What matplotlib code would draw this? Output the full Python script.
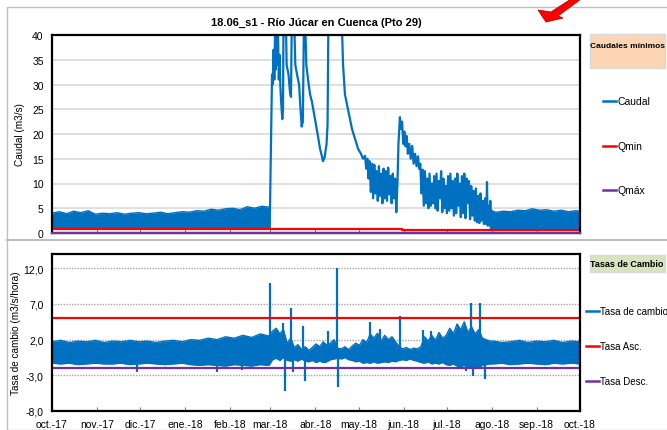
import numpy as np
import matplotlib
matplotlib.use('Agg')
import matplotlib.pyplot as plt
import matplotlib.dates as mdates
from matplotlib.lines import Line2D
from matplotlib.patches import Rectangle, Polygon

plt.rcParams['font.family'] = ['Liberation Sans', 'DejaVu Sans']

# start of the series
start = mdates.date2num(np.datetime64('2017-10-01'))

# Caudal (m3/s), days since 2017-10-01
# low-flow band Oct-Feb (lower / upper edge)
band1_days = [0, 5, 10, 15, 20, 25, 30, 35, 40, 45, 50, 55, 60, 65, 70, 75, 80, 85, 90, 95, 100,
              105, 110, 115, 120, 125, 130, 135, 140, 145, 150.5]
band1_lo = [1.0, 0.9, 1.0, 1.0, 0.9, 1.0, 1.0, 0.9, 1.0, 1.0, 0.9, 1.0, 1.0, 0.9, 1.0, 1.0, 0.9, 1.0, 1.0, 0.9, 1.0,
            1.0, 0.9, 1.0, 1.0, 0.9, 1.0, 1.0, 0.9, 1.0, 1.0]
band1_hi = [4.0, 4.3, 3.9, 4.4, 4.1, 4.5, 3.8, 4.0, 3.9, 4.1, 3.8, 4.0, 4.1, 3.9, 4.0, 4.2, 3.9, 4.1, 4.3, 4.2, 4.5,
            4.4, 4.8, 4.6, 4.9, 5.0, 4.7, 5.3, 5.0, 5.4, 5.2]

# flood period Mar-Jul (single trace)
flood_days = [150.5, 152.1, 152.6, 153.1, 153.7, 154.2, 154.7, 155.2, 155.7, 156.2, 156.8, 157.3, 157.8, 158.5,
              159.2, 159.7, 160.0, 161.8, 162.2, 163.5, 164.5, 165.2, 165.7, 167.6, 168.2, 169.4, 170.8, 171.8,
              172.6, 173.4, 174.1, 175.2, 175.8, 177.0, 178.4, 179.7, 181.8, 183.9, 185.3, 186.6, 187.3, 188.4,
              189.8, 190.5, 191.0, 200.5, 201.2, 202.5, 204.6, 206.0, 207.4, 209.5, 211.6, 213.6, 215.0,
              216.4, 217.2, 218.0, 218.8, 219.6, 220.4, 221.2, 222.0, 222.8, 223.6, 224.4, 225.2, 226.0, 226.8,
              227.6, 228.4, 229.2, 230.0, 230.8, 231.6, 232.4, 233.2, 234.0, 234.8, 235.6, 236.4, 237.2, 238.0,
              238.8, 239.5, 240.5, 241.3, 242.0, 242.8, 243.6, 244.4, 245.2, 246.0, 247.0, 248.0, 249.0, 250.0,
              251.0, 252.0, 253.0, 253.8, 254.6, 255.4, 256.2, 257.0, 257.8, 258.6, 259.4, 260.2, 261.0, 261.8,
              262.6, 263.4, 264.2, 265.0, 265.8, 266.6, 267.4, 268.2, 269.0, 269.8, 270.6, 271.4, 272.2, 273.0,
              273.8, 274.6, 275.4, 276.2, 277.0, 277.8, 278.6, 279.4, 280.2, 281.0, 281.8, 282.6, 283.4, 284.2,
              285.0, 285.8, 286.6, 287.4, 288.2, 289.0, 289.8, 290.6, 291.4, 292.2, 293.0, 293.8, 294.6, 295.4,
              296.2, 297.0, 297.8, 298.6, 299.4, 300.2, 300.7, 301.2, 301.8, 302.4, 303.0, 303.5, 304.0, 304.5]
flood_vals = [1.0, 32, 30, 37, 31, 41, 33, 41, 34, 41, 31, 36, 30, 26,
              23, 25, 41, 41, 34, 32, 28.5, 27.5, 41, 41, 34, 32, 30, 25,
              21.5, 22.5, 41, 41, 34, 31, 28, 26.5, 23, 19.5, 17, 15.5, 14.5, 15.2,
              18, 22, 41, 41, 34, 28, 25, 23, 21, 19, 17, 16, 15,
              15.6, 13.0, 15.0, 11.0, 14.5, 8.3, 14.0, 7.0, 13.8, 8.0, 12.5, 6.5, 13.5, 7.5,
              12.0, 6.0, 13.0, 7.0, 12.5, 6.5, 13.2, 7.8, 11.5, 6.0, 12.0, 7.0, 11.0, 4.2,
              10.0, 18.0, 23.4, 21.0, 22.5, 18.0, 20.5, 17.5, 19.6, 16.0, 18.0, 15.0, 17.6, 14.0,
              16.0, 13.5, 15.5, 13.0, 14.0, 8.0, 12.8, 5.5, 12.5, 6.0, 11.0, 5.0, 12.0, 5.5,
              10.0, 6.0, 11.5, 5.0, 12.0, 4.5, 10.5, 7.0, 12.5, 4.2, 11.0, 5.0, 9.5, 4.0,
              11.5, 4.5, 12.0, 5.0, 10.5, 3.5, 11.0, 4.0, 12.0, 5.5, 10.0, 3.2, 11.5, 4.0,
              12.0, 3.0, 11.0, 6.0, 10.5, 2.8, 9.5, 3.5, 8.5, 2.5, 9.0, 2.2, 7.5, 2.0,
              8.0, 2.5, 6.5, 1.8, 7.0, 1.8, 10.3, 1.5, 5.5, 1.5, 6.5, 1.2, 4.5, 1.0]

# low-flow band Aug-Sep
band2_days = [303, 307, 312, 317, 322, 327, 332, 337, 342, 347, 352, 357, 362, 365]
band2_lo = [1.0, 0.8, 0.9, 0.8, 0.9, 0.8, 0.8, 0.9, 0.8, 0.9, 0.8, 0.8, 0.9, 0.9]
band2_hi = [4.5, 4.2, 4.4, 4.3, 4.6, 4.5, 4.9, 4.6, 4.7, 4.4, 4.6, 4.3, 4.5, 4.4]

# Qmin / Qmax thresholds
qmin_days = [0, 241.7, 241.7, 365]
qmin_vals = [0.85, 0.85, 0.6, 0.6]
qmax_days = [0, 365]
qmax_vals = [0, 0]

# Tasa de cambio (m3/s/hora): band edges
tasa_days = [0, 6, 12, 18, 24, 30, 36, 42, 48, 54, 60, 66, 72, 78, 84, 90, 96, 102, 108, 114, 120, 126, 132, 138, 144, 150,
             152.5, 155, 157.5, 160, 162.5, 165, 167.5, 170, 172.5, 175, 177.5, 180, 182.5, 185, 187.5, 190, 192.5, 195,
             197.5, 200, 202.5, 205, 207.5, 210, 212.5, 215, 217.5, 220, 222.5, 225, 227.5, 230, 232.5, 235, 237.5,
             240, 242.5, 245, 247.5, 250, 252.5, 255, 257.5, 260, 262.5, 265, 267.5, 270, 272.5, 275, 277.5, 280,
             282.5, 285, 287.5, 290, 292.5, 295, 297.5, 300, 302.5,
             305, 311, 317, 323, 329, 335, 341, 347, 353, 359, 365]
tasa_hi = [1.7, 1.9, 1.6, 1.8, 1.7, 1.9, 1.6, 1.8, 1.7, 1.9, 1.7, 1.8, 1.6, 1.8, 1.9, 1.7, 2.0, 1.9, 2.2, 2.0, 2.4,
           2.2, 2.6, 2.3, 2.8, 2.5,
           3.2, 3.6, 2.8, 3.4, 1.5, 2.2, 0.9, 1.3, 0.6, 1.0, 0.5, 0.9, 1.4, 1.0, 1.7, 1.2, 1.5, 2.0, 0.8, 0.7, 1.0,
           0.6, 1.1, 1.5, 1.2, 2.0, 1.6, 2.8, 2.2, 2.9, 1.8, 2.6, 2.0, 2.4, 1.7, 1.0, 0.7, 0.9, 0.6, 0.8, 0.7, 1.0,
           2.4, 1.8, 2.6, 1.9, 3.0, 2.2, 2.6, 3.6, 2.8, 4.2, 3.4, 4.5, 3.0, 3.8, 2.8, 3.4, 2.2, 2.0, 1.8,
           1.8, 1.6, 1.7, 1.9, 1.6, 1.8, 1.7, 1.9, 1.6, 1.8, 1.7]
tasa_lo = [-1.3, -1.4, -1.3, -1.5, -1.4, -1.3, -1.4, -1.4, -1.3, -1.5, -1.4, -1.3, -1.4, -1.5, -1.4, -1.3, -1.5,
           -1.6, -1.5, -1.6, -1.7, -1.5, -1.6, -1.7, -1.5, -1.6,
           -0.8, -0.6, -0.9, -0.5, -0.9, -1.0, -0.8, -1.0, -0.7, -1.0, -1.1, -0.9, -1.2, -1.0, -1.2, -1.1, -0.8,
           -0.7, -0.6, -0.7, -0.5, -0.8, -0.9, -1.1, -1.0, -1.3, -1.2, -1.3, -1.1, -1.3, -1.2, -1.1, -1.2, -1.0,
           -1.1, -0.9, -0.8, -0.9, -0.7, -0.9, -1.0, -1.2, -1.3, -1.1, -1.4, -1.3, -1.4, -1.2, -1.5, -1.6, -1.4,
           -1.7, -1.8, -1.6, -1.9, -1.8, -1.7, -1.9, -1.6, -1.5, -1.4,
           -1.4, -1.3, -1.5, -1.4, -1.3, -1.4, -1.5, -1.3, -1.4, -1.3, -1.4]

# isolated spikes of the rate of change
spike_days = [58.5, 113.9, 131.1, 150.7, 159.9, 161.1, 165.0, 166.4, 173.7, 174.9, 191.0, 196.8, 197.9,
              219.8, 226.7, 240.8, 256.5, 262.2, 286.4, 289.8, 290.7, 295.9, 299.3]
spike_vals = [-2.6, -2.5, -2.3, 10.0, 4.3, -5.2, 6.4, -2.6, 3.9, -3.8, 3.2, 12.1, -4.7,
              4.5, 3.5, 5.3, 3.3, 3.2, -2.4, 7.1, -3.1, 7.1, -3.5]

tasa_asc = 5.0
tasa_desc = -2.0

months = ['oct.-17', 'nov.-17', 'dic.-17', 'ene.-18', 'feb.-18', 'mar.-18', 'abr.-18',
          'may.-18', 'jun.-18', 'jul.-18', 'ago.-18', 'sep.-18', 'oct.-18']

BLUE = '#0070C0'
RED = '#FF0000'
PURPLE = '#7030A0'

W, H = 667, 431
fig = plt.figure(figsize=(W / 100, H / 100), dpi=100)


def box(x0, y0, x1, y1):
    return [x0 / W, 1 - y1 / H, (x1 - x0) / W, (y1 - y0) / H]


# outer chart frames
fig.add_artist(Rectangle((7 / W, 0), 1, 1 - 8 / H, transform=fig.transFigure,
                         fill=False, ec='#BFBFBF', lw=1.0))
fig.add_artist(Line2D([7 / W, 1], [1 - 241 / H] * 2, transform=fig.transFigure, color='#BFBFBF', lw=1.5))

# red arrow decoration
arrow = [(546, 23), (538, 11), (551, 13), (571, 0), (581, 0), (558, 17), (563, 19)]
fig.add_artist(Polygon([(x / W, 1 - y / H) for x, y in arrow], closed=True, transform=fig.transFigure,
                       fc=RED, ec='#C00000', lw=0.6))

tick_pos = mdates.date2num(np.arange(np.datetime64('2017-10'), np.datetime64('2018-11'),
                                     np.timedelta64(1, 'M')).astype('datetime64[D]'))

# ---- top panel: caudal
ax1 = fig.add_axes(box(52, 36, 580, 234))
for d, lo, hi in [(band1_days, band1_lo, band1_hi), (band2_days, band2_lo, band2_hi)]:
    dd = start + np.array(d)
    ax1.fill_between(dd, lo, hi, color=BLUE, lw=0)
    ax1.plot(dd, lo, color=BLUE, lw=1.0)
    ax1.plot(dd, hi, color=BLUE, lw=1.0)
ax1.plot(start + np.array(flood_days), flood_vals, color=BLUE, lw=1.6)
ax1.plot(start + np.array(qmin_days), qmin_vals, color=RED, lw=1.6)
ax1.plot(start + np.array(qmax_days), qmax_vals, color=PURPLE, lw=1.6, clip_on=False, zorder=5)
ax1.set_ylim(0, 40)
ax1.set_yticks(range(0, 41, 5))
ax1.set_xlim(tick_pos[0], tick_pos[-1])
ax1.set_xticks(tick_pos)
ax1.set_xticklabels([])
ax1.grid(axis='y', color='#D9D9D9', lw=1.2)
ax1.set_axisbelow(True)
ax1.tick_params(axis='y', length=0, labelsize=7.5, pad=6)
ax1.tick_params(axis='x', direction='in', length=3, color='#808080')
for s in ax1.spines.values():
    s.set_linewidth(1.6)
ax1.set_ylabel('Caudal (m3/s)', fontsize=7.2, labelpad=5)
ax1.set_title('18.06_s1 - Río Júcar en Cuenca (Pto 29)', fontsize=8, fontweight='bold', pad=7)

# ---- bottom panel: tasa de cambio
td = start + np.array(tasa_days)
ax2 = fig.add_axes(box(52, 255, 580, 412))
ax2.fill_between(td, tasa_lo, tasa_hi, color=BLUE, lw=0)
ax2.plot(td, tasa_lo, color=BLUE, lw=1.0)
ax2.plot(td, tasa_hi, color=BLUE, lw=1.0)
ax2.vlines(start + np.array(spike_days), 0, spike_vals, color=BLUE, lw=1.6)
ax2.axhline(tasa_asc, color=RED, lw=1.6)
ax2.axhline(tasa_desc, color=PURPLE, lw=1.6)
ax2.set_ylim(-8, 14)
ax2.set_yticks([-8, -3, 2, 7, 12])
ax2.set_yticklabels(['-8,0', '-3,0', '2,0', '7,0', '12,0'])
ax2.set_xlim(tick_pos[0], tick_pos[-1])
ax2.set_xticks(tick_pos)
ax2.set_xticklabels(months)
ax2.grid(axis='y', color='#A6A6A6', lw=1.0, ls=(0, (1, 1)))
ax2.set_axisbelow(True)
ax2.tick_params(axis='y', length=0, labelsize=7.5, pad=6)
ax2.tick_params(axis='x', direction='in', length=3, color='#808080', labelsize=7.5, pad=6)
for s in ax2.spines.values():
    s.set_linewidth(1.6)
ax2.set_ylabel('Tasa de cambio (m3/s/hora)', fontsize=7.2, labelpad=2)

# ---- legends drawn as figure text
fig.add_artist(Rectangle((590 / W, 1 - 69 / H), 75 / W, 34 / H, transform=fig.transFigure,
                         fc='#FCD5B4', ec='#D9D9D9', lw=1.0))
fig.text(627 / W, 1 - 46 / H, 'Caudales mínimos', fontsize=6, fontweight='bold', ha='center', va='center')
for yy, lab, col in [(102, 'Caudal', BLUE), (147, 'Qmin', RED), (191, 'Qmáx', PURPLE)]:
    fig.add_artist(Line2D([603 / W, 616 / W], [1 - yy / H] * 2, transform=fig.transFigure, color=col, lw=1.8))
    fig.text(617 / W, 1 - yy / H, lab, fontsize=7.5, va='center')

fig.add_artist(Rectangle((590 / W, 1 - 273 / H), 75 / W, 17 / H, transform=fig.transFigure,
                         fc='#D7E4BD', ec='#D9D9D9', lw=1.0))
fig.text(627 / W, 1 - 264.5 / H, 'Tasas de Cambio', fontsize=6.5, fontweight='bold', ha='center', va='center')
for yy, lab, col in [(312, 'Tasa de cambio', BLUE), (347, 'Tasa Asc.', RED), (382, 'Tasa Desc.', PURPLE)]:
    fig.add_artist(Line2D([586 / W, 599 / W], [1 - yy / H] * 2, transform=fig.transFigure, color=col, lw=1.8))
    fig.text(600 / W, 1 - yy / H, lab, fontsize=7, va='center')

fig.savefig('out.png', dpi=100)
